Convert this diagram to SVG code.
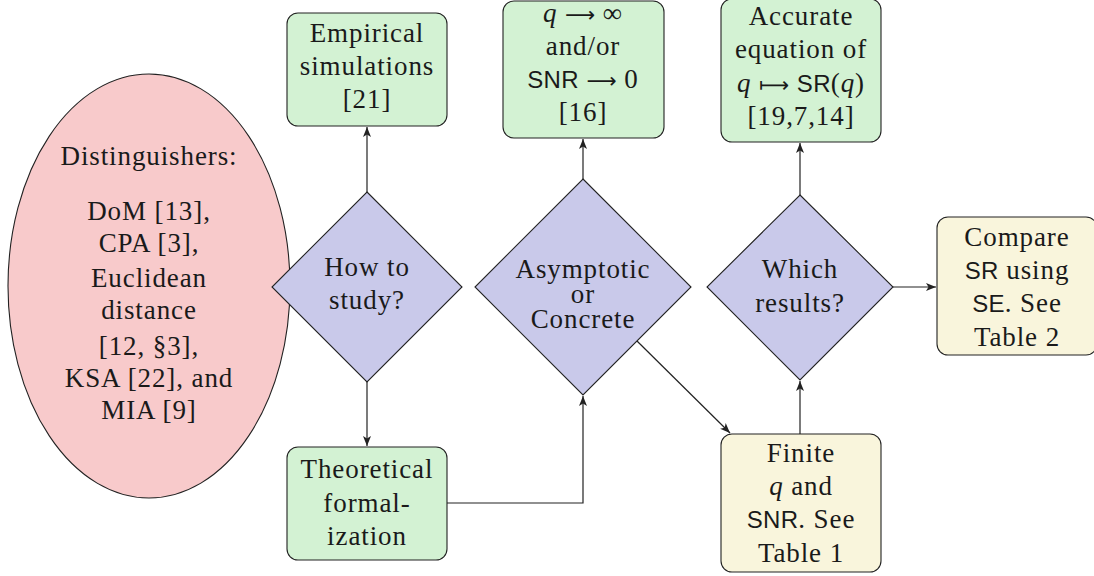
<svg xmlns="http://www.w3.org/2000/svg" width="1094" height="576" viewBox="0 0 1094 576">
<defs>
<marker id="ah" markerUnits="userSpaceOnUse" markerWidth="11" markerHeight="9" refX="10" refY="4.5" orient="auto">
<path d="M0,0.5 L10,4.5 L0,8.5 L2.5,4.5 z" fill="#222"/>
</marker>
<style>
.t{font-family:"Liberation Serif",serif;font-size:27px;letter-spacing:0.9px;fill:#1a1a1a;text-anchor:middle}
.s{font-family:"Liberation Sans",sans-serif;font-size:24px;letter-spacing:0.3px}
.a{font-family:"DejaVu Sans",sans-serif;font-size:21px;letter-spacing:0}
.i{font-style:italic}
.box{stroke:#222;stroke-width:1.1}
.g{fill:#d3f2d3}
.y{fill:#f9f5dc}
.d{fill:#c9c9ea;stroke:#222;stroke-width:1.1}
.c{fill:none;stroke:#222;stroke-width:1.2;marker-end:url(#ah)}
</style>
</defs>
<rect width="1094" height="576" fill="#fff"/>

<g id="distinguishers">
<ellipse cx="149" cy="286" rx="141" ry="212" fill="#f8cacb" stroke="#222" stroke-width="1.1"/>
<text class="t" x="149" y="165">Distinguishers:</text>
<text class="t" x="149" y="220">DoM [13],</text>
<text class="t" x="149" y="252">CPA [3],</text>
<text class="t" x="149" y="287">Euclidean</text>
<text class="t" x="149" y="319">distance</text>
<text class="t" x="149" y="355">[12, §3],</text>
<text class="t" x="149" y="387">KSA [22], and</text>
<text class="t" x="149" y="419">MIA [9]</text>
</g>

<g id="empirical">
<rect class="box g" x="287" y="13" width="160" height="113" rx="11"/>
<text class="t" x="367" y="42">Empirical</text>
<text class="t" x="367" y="75">simulations</text>
<text class="t" x="367" y="108">[21]</text>
</g>

<g id="theoretical">
<rect class="box g" x="287" y="447" width="160" height="113" rx="11"/>
<text class="t" x="367" y="478">Theoretical</text>
<text class="t" x="367" y="512">formal-</text>
<text class="t" x="367" y="545">ization</text>
</g>

<g id="asymptotic-results">
<rect class="box g" x="503" y="1" width="161" height="137" rx="11"/>
<text class="t" x="583" y="22"><tspan class="i">q</tspan> <tspan class="a">⟶</tspan> ∞</text>
<text class="t" x="583" y="55">and/or</text>
<text class="t" x="583" y="88"><tspan class="s">SNR</tspan> <tspan class="a">⟶</tspan> 0</text>
<text class="t" x="583" y="121">[16]</text>
</g>

<g id="accurate">
<rect class="box g" x="721" y="-1" width="160" height="143" rx="11"/>
<text class="t" x="801" y="25">Accurate</text>
<text class="t" x="801" y="58">equation of</text>
<text class="t" x="801" y="92"><tspan class="i">q</tspan> <tspan class="a">⟼</tspan> <tspan class="s">SR</tspan>(<tspan class="i">q</tspan>)</text>
<text class="t" x="801" y="125">[19,7,14]</text>
</g>

<g id="finite">
<rect class="box y" x="721" y="434" width="160" height="138" rx="11"/>
<text class="t" x="801" y="462">Finite</text>
<text class="t" x="801" y="495"><tspan class="i">q</tspan> and</text>
<text class="t" x="801" y="528"><tspan class="s">SNR</tspan>. See</text>
<text class="t" x="801" y="562">Table 1</text>
</g>

<g id="compare">
<rect class="box y" x="937" y="217" width="160" height="138" rx="11"/>
<text class="t" x="1017" y="246">Compare</text>
<text class="t" x="1017" y="279"><tspan class="s">SR</tspan> using</text>
<text class="t" x="1017" y="312"><tspan class="s">SE</tspan>. See</text>
<text class="t" x="1017" y="346">Table 2</text>
</g>

<g id="how-to-study">
<polygon class="d" points="367,192 462,287 367,382 272,287"/>
<text class="t" x="367" y="276">How to</text>
<text class="t" x="367" y="309">study?</text>
</g>

<g id="asymptotic-or-concrete">
<polygon class="d" points="583,179 691,287 583,395 475,287"/>
<text class="t" x="583" y="278">Asymptotic</text>
<text class="t" x="583" y="303">or</text>
<text class="t" x="583" y="328">Concrete</text>
</g>

<g id="which-results">
<polygon class="d" points="800,195 893,287 800,380 707,287"/>
<text class="t" x="800" y="278">Which</text>
<text class="t" x="800" y="312">results?</text>
</g>

<g id="connectors">
<path class="c" d="M367,192 L367,127"/>
<path class="c" d="M367,382 L367,446"/>
<path class="c" d="M447,503 L583,503 L583,396"/>
<path class="c" d="M583,179 L583,139"/>
<path class="c" d="M637,341 L730,433"/>
<path class="c" d="M800,434 L800,381"/>
<path class="c" d="M800,195 L800,143"/>
<path class="c" d="M893,287 L936,287"/>
</g>
</svg>
